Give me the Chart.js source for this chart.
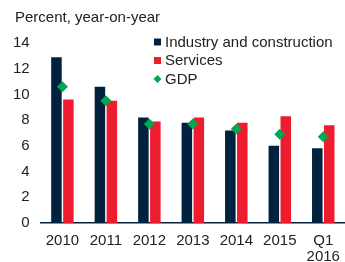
<!DOCTYPE html>
<html>
<head>
<meta charset="utf-8">
<script src="https://cdn.jsdelivr.net/npm/chart.js@4/dist/chart.umd.min.js"></script>
<style>
html,body{margin:0;padding:0;background:#fff;}
#wrap{position:relative;width:345px;height:262px;}
</style>
</head>
<body>
<div id="wrap"><canvas id="c" width="345" height="262"></canvas></div>
<script>
const categories = ['2010','2011','2012','2013','2014','2015',['Q1','2016']];
const industry = [12.9, 10.6, 8.2, 7.8, 7.2, 6.0, 5.8];
const services = [9.6, 9.5, 7.9, 8.2, 7.8, 8.3, 7.6];
const gdp = [10.6, 9.5, 7.7, 7.7, 7.3, 6.9, 6.7];
const yTicks = [0, 2, 4, 6, 8, 10, 12, 14];
const titleText = 'Percent, year-on-year';

const NAVY = '#00223f';
const RED = '#ed1c2e';
const GREEN = '#00a651';
const FONT = '"Liberation Sans", Arial, sans-serif';

const legendPlugin = {
  id: 'customLegend',
  afterDraw(chart) {
    const ctx = chart.ctx;
    ctx.save();
    ctx.font = '15px ' + FONT;
    ctx.textBaseline = 'middle';
    ctx.textAlign = 'left';
    ctx.fillStyle = '#222';
    ctx.fillText(titleText, 15, 18);
    const x0 = 154, y0 = 42, step = 18.5;
    chart.data.datasets.forEach((ds, i) => {
      const y = y0 + i * step;
      ctx.fillStyle = ds.legendColor;
      if (ds.type === 'line') {
        ctx.beginPath();
        ctx.moveTo(x0 + 3.5, y - 4);
        ctx.lineTo(x0 + 7.5, y);
        ctx.lineTo(x0 + 3.5, y + 4);
        ctx.lineTo(x0 - 0.5, y);
        ctx.closePath();
        ctx.fill();
      } else {
        ctx.fillRect(x0, y - 3.5, 7, 7);
      }
      ctx.fillStyle = '#222';
      ctx.fillText(ds.label, x0 + 11, y + 0.5);
    });
    ctx.restore();
  }
};

new Chart(document.getElementById('c'), {
  data: {
    labels: categories,
    datasets: [
      { type: 'bar', label: 'Industry and construction', data: industry, backgroundColor: NAVY, legendColor: NAVY, order: 2,
        barPercentage: 0.88, categoryPercentage: 0.55 },
      { type: 'bar', label: 'Services', data: services, backgroundColor: RED, legendColor: RED, order: 2,
        barPercentage: 0.88, categoryPercentage: 0.55 },
      { type: 'line', label: 'GDP', data: gdp, showLine: false, legendColor: GREEN, order: 0,
        pointStyle: 'rectRot', pointRadius: 5.5, pointBackgroundColor: GREEN, pointBorderColor: GREEN, pointBorderWidth: 0 }
    ]
  },
  options: {
    responsive: false,
    animation: false,
    layout: { autoPadding: false, padding: { left: 2, right: -2, top: 43, bottom: -13 } },
    plugins: {
      legend: { display: false },
      tooltip: { enabled: false },
      title: { display: false }
    },
    scales: {
      x: {
        offset: true,
        afterFit: (s) => { s.paddingLeft = 0; s.paddingRight = 0; s.paddingTop = 0; s.paddingBottom = 0; },
        grid: { display: false, drawTicks: false },
        border: { display: true, color: NAVY, width: 1.5 },
        ticks: { color: '#222', font: { family: FONT, size: 15, lineHeight: 1.07 }, padding: 10, maxRotation: 0, autoSkip: false }
      },
      y: {
        min: 0, max: 14,
        afterFit: (s) => { s.paddingTop = 0; s.paddingBottom = 0; },
        afterBuildTicks: (axis) => { axis.ticks = yTicks.map(v => ({ value: v })); },
        grid: { display: false, drawTicks: false },
        border: { display: false },
        ticks: { color: '#222', font: { family: FONT, size: 15 }, padding: 11 }
      }
    }
  },
  plugins: [legendPlugin]
});
</script>
</body>
</html>
